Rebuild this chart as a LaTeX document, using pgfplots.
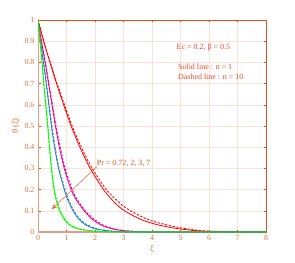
\documentclass[border=0pt]{standalone}
\usepackage{fontspec}
\setmainfont{Liberation Serif}
\usepackage{pgfplots}
\pgfplotsset{compat=1.18}
\usetikzlibrary{arrows.meta}
\definecolor{axo}{HTML}{D95319}
\definecolor{tickc}{HTML}{E0703C}
\definecolor{gridc}{HTML}{F8E2DA}
\definecolor{salmon}{HTML}{EA9A80}
\definecolor{blu}{HTML}{2A7FC0}
\definecolor{txtr}{HTML}{E64A2E}
\begin{document}
\begin{tikzpicture}
\begin{axis}[
  scale only axis, width=228bp, height=212bp,
  xmin=0, xmax=8, ymin=0, ymax=1,
  xtick={0,1,2,3,4,5,6,7,8},
  ytick={0,0.1,0.2,0.3,0.4,0.5,0.6,0.7,0.8,0.9,1},
  yticklabels={0,0.1,0.2,0.3,0.4,0.5,0.6,0.7,0.8,0.9,1},
  xticklabels={0,1,2,3,4,5,6,7,8},
  grid=major, grid style={gridc, line width=0.5pt},
  axis line style={axo, line width=0.6pt},
  tick style={axo, line width=0.6pt}, tick align=inside, major tick length=2.5bp,
  ticklabel style={font=\fontsize{8}{9}\selectfont, text=tickc},
  /pgf/number format/assume math mode=true,
  xlabel={ξ}, ylabel={θ (ξ)},
  label style={font=\fontsize{8.5}{10}\selectfont, text=tickc},
  xlabel style={yshift=2bp},
  ylabel style={yshift=-2bp},
]
\coordinate (ll) at (rel axis cs:0,0);
\coordinate (ur) at (rel axis cs:1,1);
\draw[salmon, line width=1.6pt] (rel axis cs:0,1) -- (rel axis cs:0,0) -- (rel axis cs:1,0);
% Pr = 0.72 (red)
\addplot[red, line width=0.8pt, smooth, tension=0.5] coordinates {
(0,1) (0.2,0.9) (0.42,0.8) (0.65,0.7) (0.9,0.6) (1.16,0.5) (1.47,0.4) (1.83,0.3)
(2.3,0.2) (2.68,0.14) (3.0,0.103) (3.5,0.066) (3.81,0.049) (4.2,0.034) (4.63,0.022)
(5,0.014) (5.5,0.007) (6,0.003) (7,0.0008) (8,0)};
\addplot[red, line width=0.9pt, dash pattern=on 2.2pt off 1.6pt, smooth, tension=0.5] coordinates {
(0,1) (0.2,0.9) (0.43,0.8) (0.67,0.7) (0.93,0.6) (1.2,0.5) (1.52,0.4) (1.9,0.3)
(2.4,0.2) (2.8,0.145) (3.1,0.112) (3.6,0.075) (4,0.052) (4.63,0.03) (5,0.02)
(5.5,0.01) (6,0.004) (7,0.001) (8,0)};
% Pr = 2 (magenta)
\addplot[magenta, line width=0.8pt, smooth, tension=0.4] coordinates {
(0,1) (0.12,0.9) (0.25,0.8) (0.37,0.7) (0.49,0.6) (0.61,0.5) (0.75,0.4) (0.92,0.3)
(1.16,0.2) (1.35,0.15) (1.62,0.1) (1.9,0.06) (2.25,0.03) (2.6,0.015) (3,0.006)
(3.5,0.002) (4,0) (8,0)};
\addplot[magenta, line width=0.9pt, dash pattern=on 2.2pt off 1.6pt, smooth, tension=0.4] coordinates {
(0,1) (0.12,0.9) (0.26,0.8) (0.38,0.7) (0.51,0.6) (0.63,0.5) (0.78,0.4) (0.95,0.3)
(1.2,0.2) (1.39,0.15) (1.66,0.1) (1.95,0.062) (2.3,0.032) (2.65,0.016) (3,0.007)
(3.5,0.002) (4,0) (8,0)};
% Pr = 3 (blue)
\addplot[blu, line width=0.8pt, smooth, tension=0.4] coordinates {
(0,1) (0.09,0.9) (0.19,0.8) (0.29,0.7) (0.38,0.6) (0.47,0.5) (0.58,0.4) (0.72,0.3)
(0.92,0.2) (1.05,0.15) (1.23,0.1) (1.4,0.065) (1.65,0.035) (2,0.015) (2.5,0.005)
(3,0.001) (3.5,0) (8,0)};
\addplot[blu, line width=0.9pt, dash pattern=on 2.2pt off 1.6pt, smooth, tension=0.4] coordinates {
(0,1) (0.09,0.9) (0.2,0.8) (0.3,0.7) (0.39,0.6) (0.49,0.5) (0.6,0.4) (0.74,0.3)
(0.95,0.2) (1.08,0.15) (1.26,0.1) (1.44,0.066) (1.7,0.036) (2.05,0.016) (2.5,0.006)
(3,0.001) (3.5,0) (8,0)};
% Pr = 7 (green)
\addplot[green, line width=0.8pt, smooth, tension=0.4] coordinates {
(0,1) (0.07,0.9) (0.14,0.8) (0.2,0.7) (0.27,0.6) (0.34,0.5) (0.4,0.4) (0.47,0.3)
(0.56,0.2) (0.64,0.15) (0.76,0.1) (0.92,0.06) (1.05,0.04) (1.2,0.025) (1.5,0.012)
(2,0.004) (2.5,0.001) (3,0) (8,0)};
\addplot[green, line width=0.9pt, dash pattern=on 2.2pt off 1.6pt, smooth, tension=0.4] coordinates {
(0,1) (0.07,0.9) (0.145,0.8) (0.21,0.7) (0.28,0.6) (0.35,0.5) (0.41,0.4) (0.48,0.3)
(0.575,0.2) (0.655,0.15) (0.78,0.1) (0.94,0.061) (1.07,0.041) (1.22,0.026) (1.52,0.012)
(2,0.004) (2.5,0.001) (3,0) (8,0)};
\draw[-{Stealth[length=6bp,width=5bp]}, axo!80, line width=0.6pt]
  (axis cs:2.06,0.308) -- (axis cs:0.48,0.107);
\node[anchor=west, inner sep=0pt, text=axo, font=\fontsize{8}{9}\selectfont]
  at (axis cs:2.06,0.325) {Pr = 0.72, 2, 3, 7};
\node[anchor=west, inner sep=0pt, text=txtr, font=\fontsize{8}{9}\selectfont]
  at (axis cs:4.86,0.868) {Ec = 0.2, β = 0.5};
\node[anchor=west, inner sep=0pt, text=txtr, font=\fontsize{8}{9}\selectfont]
  at (axis cs:4.91,0.778) {Solid line : n = 1};
\node[anchor=west, inner sep=0pt, text=txtr, font=\fontsize{8}{9}\selectfont]
  at (axis cs:4.91,0.731) {Dashed line : n = 10};
\end{axis}
\pgfresetboundingbox
\path (ll) ++(-38bp,-30bp) coordinate (a);
\path (ur) ++(29bp,20bp) coordinate (b);
\useasboundingbox (a) rectangle (b);
\end{tikzpicture}
\end{document}
